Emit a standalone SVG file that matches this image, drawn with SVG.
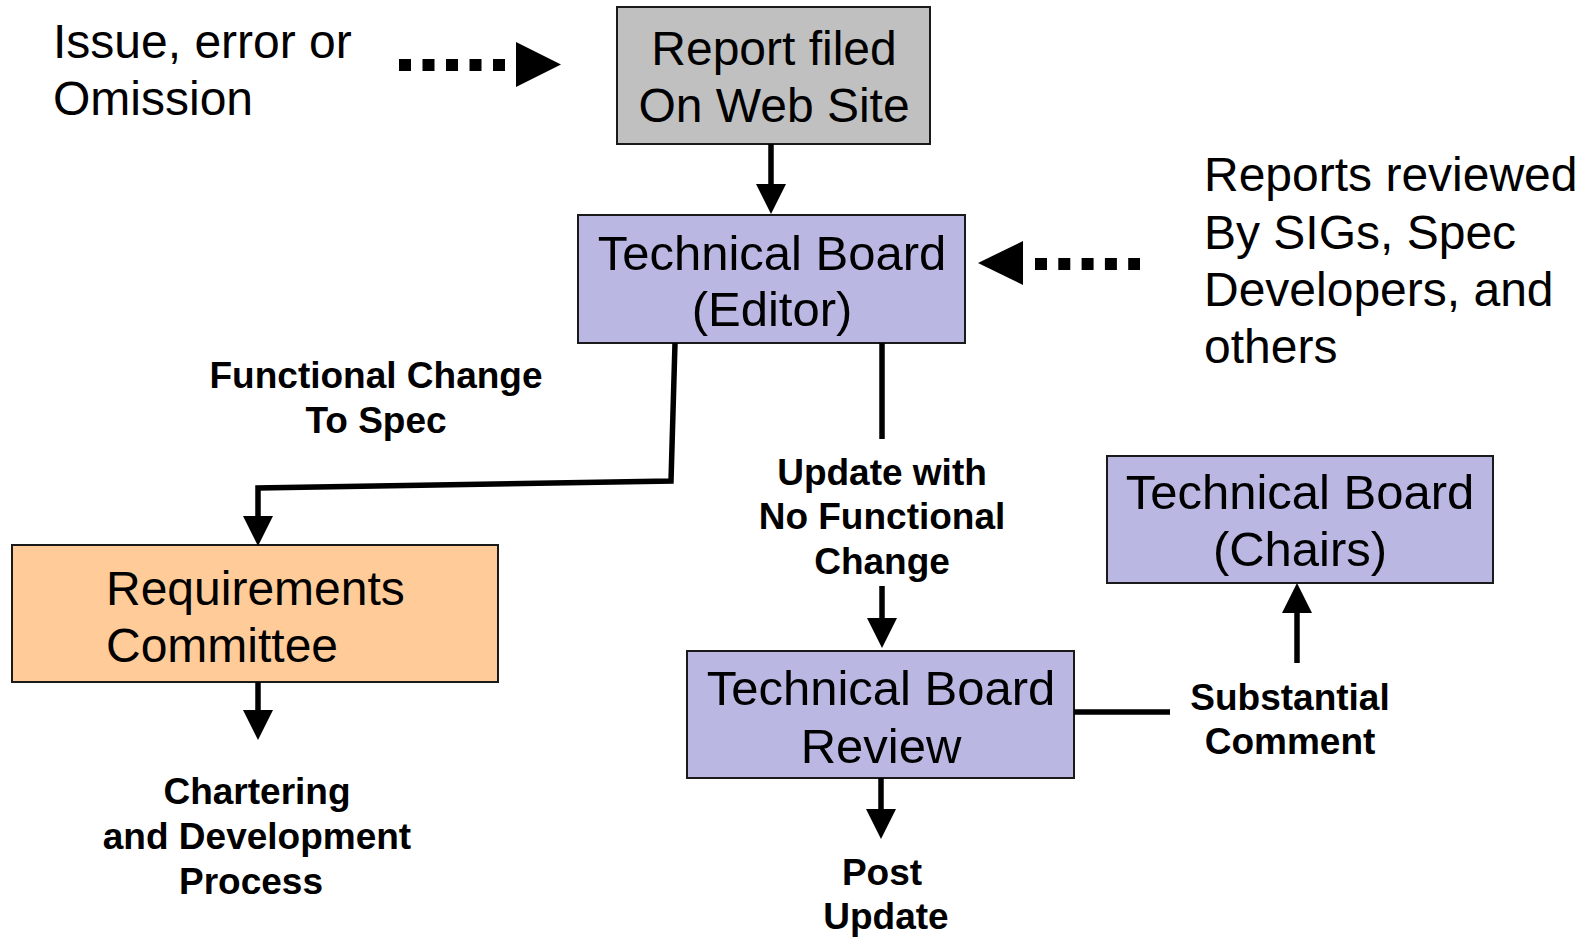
<svg xmlns="http://www.w3.org/2000/svg" width="1596" height="937" viewBox="0 0 1596 937">
<style>
.box{stroke:#1a1a1a;stroke-width:2}
.gray{fill:#C0C0C0}
.purple{fill:#BAB7E2}
.orange{fill:#FFCC99}
.t{font-family:"Liberation Sans",Arial,sans-serif;font-size:48px;fill:#000}
.tb{font-size:49px}
.c{text-anchor:middle}
.b{font-family:"Liberation Sans",Arial,sans-serif;font-size:37px;font-weight:bold;fill:#000;text-anchor:middle}
.ln{stroke:#000;stroke-width:5.5;fill:none}
.dot{stroke:#000;stroke-width:12;fill:none}
</style>
<defs>
<marker id="ah" markerUnits="userSpaceOnUse" markerWidth="32" markerHeight="32" refX="0" refY="15" orient="auto" overflow="visible">
<path d="M0,0 L30,15 L0,30 z" fill="#000"/>
</marker>
</defs>
<rect width="1596" height="937" fill="#fff"/>
<g id="issue-text">
<text class="t" x="53" y="58">Issue, error or</text>
<text class="t" x="53" y="115">Omission</text>
</g>
<g id="reports-text">
<text class="t" x="1204" y="191">Reports reviewed</text>
<text class="t" x="1204" y="249">By SIGs, Spec</text>
<text class="t" x="1204" y="306">Developers, and</text>
<text class="t" x="1204" y="363">others</text>
</g>
<g id="report-filed">
<rect class="box gray" x="617" y="7" width="313" height="137"/>
<text class="t c" x="774" y="65">Report filed</text>
<text class="t c" x="774" y="122">On Web Site</text>
</g>
<g id="tb-editor">
<rect class="box purple" x="578" y="215" width="387" height="128"/>
<text class="t tb c" x="772" y="270">Technical Board</text>
<text class="t tb c" x="772" y="326">(Editor)</text>
</g>
<g id="req-committee">
<rect class="box orange" x="12" y="545" width="486" height="137"/>
<text class="t" x="106" y="605">Requirements</text>
<text class="t" x="106" y="662">Committee</text>
</g>
<g id="tb-review">
<rect class="box purple" x="687" y="651" width="387" height="127"/>
<text class="t tb c" x="881" y="705">Technical Board</text>
<text class="t tb c" x="881" y="763">Review</text>
</g>
<g id="tb-chairs">
<rect class="box purple" x="1107" y="456" width="386" height="127"/>
<text class="t tb c" x="1300" y="509">Technical Board</text>
<text class="t tb c" x="1300" y="566">(Chairs)</text>
</g>
<g id="labels">
<text class="b" x="376" y="388">Functional Change</text>
<text class="b" x="376" y="433">To Spec</text>
<text class="b" x="882" y="485">Update with</text>
<text class="b" x="882" y="529">No Functional</text>
<text class="b" x="882" y="574">Change</text>
<text class="b" x="257" y="804">Chartering</text>
<text class="b" x="257" y="849">and Development</text>
<text class="b" x="251" y="894">Process</text>
<text class="b" x="882" y="885">Post</text>
<text class="b" x="886" y="929">Update</text>
<text class="b" x="1290" y="710">Substantial</text>
<text class="b" x="1290" y="754">Comment</text>
</g>
<g id="connectors">
<line class="dot" x1="399" y1="65" x2="508" y2="65" stroke-dasharray="12 11.5"/>
<polygon points="516,42 561,64.5 516,87" fill="#000"/>
<line class="dot" x1="1035" y1="264" x2="1140" y2="264" stroke-dasharray="12 11.3"/>
<polygon points="1023,241 978,263 1023,285" fill="#000"/>
<line class="ln" x1="771" y1="144" x2="771" y2="184" marker-end="url(#ah)"/>
<polyline class="ln" points="675,343 671,481 258,488 258,516" marker-end="url(#ah)"/>
<line class="ln" x1="258" y1="682" x2="258" y2="710" marker-end="url(#ah)"/>
<line class="ln" x1="882" y1="343" x2="882" y2="439"/>
<line class="ln" x1="882" y1="586" x2="882" y2="618" marker-end="url(#ah)"/>
<line class="ln" x1="881" y1="778" x2="881" y2="809" marker-end="url(#ah)"/>
<line class="ln" x1="1074" y1="712" x2="1170" y2="712"/>
<line class="ln" x1="1297" y1="663" x2="1297" y2="613" marker-end="url(#ah)"/>
</g>
</svg>
